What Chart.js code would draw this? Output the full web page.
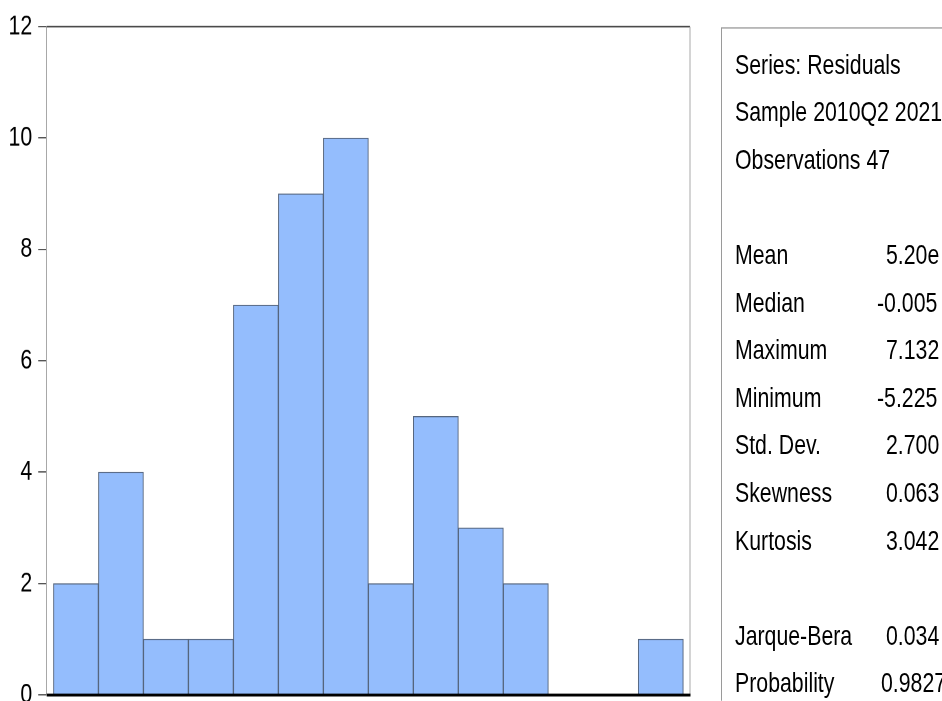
<!DOCTYPE html>
<html>
<head>
<meta charset="utf-8">
<script src="https://cdn.jsdelivr.net/npm/chart.js@4"></script>
<style>
  html, body { margin: 0; padding: 0; background: #fff; overflow: hidden; }
  /* the whole picture is stretched vertically, like the reference */
  #page { position: absolute; left: 0; top: 0; width: 942px; height: 539.23px; overflow: hidden;
          transform: scaleY(1.3); transform-origin: 0 0;
          font-family: "Liberation Sans", Arial, sans-serif; }
  #plot { position: absolute; left: 0; top: 0; width: 700px; height: 560px; }
  #stats { position: absolute; left: 721px; top: 20.5px; width: 400px; height: 700px;
           border: 1px solid #9a9a9a; box-sizing: border-box; }
  .row { position: absolute; height: 36.58px; line-height: 36.58px; font-size: 21.3px;
         color: #000; white-space: nowrap; }
</style>
</head>
<body>
<div id="page">
  <div id="plot"><canvas id="hist"></canvas></div>
  <div id="stats"></div>
</div>
<script>
// histogram of residuals, bins of width 1
const binCenters = [-5.5, -4.5, -3.5, -2.5, -1.5, -0.5, 0.5, 1.5, 2.5, 3.5, 4.5, 5.5, 6.5, 7.5];
const counts = [2, 4, 1, 1, 7, 9, 10, 2, 5, 3, 2, 0, 0, 1];
const xMin = -6.15, xMax = 8.15;
const yTicks = [0, 2, 4, 6, 8, 10, 12];

// stats box (text is cut by the right edge in the reference)
const headerLines = ["Series: Residuals", "Sample 2010Q2 2021Q4", "Observations 47"];
const statNames = ["Mean", "Median", "Maximum", "Minimum", "Std. Dev.", "Skewness", "Kurtosis"];
const statValues = ["5.20e", "-0.005", "7.132", "-5.225", "2.700", "0.063", "3.042"];
const testNames = ["Jarque-Bera", "Probability"];
const testValues = ["0.034", "0.9827"];

// where each value starts, left edge inside the box
const statValueX = [164, 155, 164, 155, 164, 164, 164];
const testValueX = [164, 159];

const box = document.getElementById('stats');
const lineH = 36.58, firstTop = 10.3, textLeft = 13;
function addText(txt, row, left) {
  const d = document.createElement('div');
  d.className = 'row';
  d.style.top = (firstTop + row * lineH) + 'px';
  d.style.left = left + 'px';
  d.textContent = txt;
  box.appendChild(d);
}
headerLines.forEach((t, i) => addText(t, i, textLeft));
statNames.forEach((t, i) => {
  addText(t, 4 + i, textLeft);
  addText(statValues[i], 4 + i, statValueX[i]);
});
testNames.forEach((t, i) => {
  addText(t, 12 + i, textLeft);
  addText(testValues[i], 12 + i, testValueX[i]);
});

// plot frame: top, right and the thick bottom line
const framePlugin = {
  id: 'frame',
  afterDatasetsDraw(chart) {
    const c = chart.ctx, a = chart.chartArea;
    c.save();
    c.strokeStyle = '#4a4a4a'; c.lineWidth = 1.2;
    c.beginPath(); c.moveTo(a.left, a.top); c.lineTo(a.right, a.top); c.stroke();
    c.strokeStyle = '#a8a8a8'; c.lineWidth = 1;
    c.beginPath(); c.moveTo(a.right, a.top); c.lineTo(a.right, a.bottom); c.stroke();
    c.strokeStyle = '#000'; c.lineWidth = 2.2;
    c.beginPath(); c.moveTo(a.left, a.bottom); c.lineTo(a.right + 0.5, a.bottom); c.stroke();
    c.restore();
  }
};

new Chart(document.getElementById('hist'), {
  type: 'bar',
  data: {
    datasets: [{
      data: binCenters.map((x, i) => ({ x: x, y: counts[i] })),
      backgroundColor: '#94bdfd',
      borderColor: '#56667e',
      borderWidth: 1,
      barPercentage: 1,
      categoryPercentage: 1
    }]
  },
  options: {
    responsive: true,
    maintainAspectRatio: false,
    animation: false,
    devicePixelRatio: 2,
    layout: { padding: { top: 20.5, right: 10, bottom: 25.4, left: 0 } },
    plugins: { legend: { display: false }, tooltip: { enabled: false } },
    scales: {
      x: {
        type: 'linear',
        display: false,
        min: xMin,
        max: xMax,
        offset: false,
        grid: { offset: false },
        ticks: { stepSize: 1, includeBounds: false }
      },
      y: {
        min: 0,
        max: 12,
        afterBuildTicks: s => { s.ticks = yTicks.map(v => ({ value: v })); },
        afterFit: s => { s.width = 46.7; },
        ticks: {
          color: '#000',
          padding: 6,
          font: { family: '"Liberation Sans", Arial, sans-serif', size: 21.3 }
        },
        grid: { drawOnChartArea: false, tickLength: 8.5, color: '#555' },
        border: { color: '#a8a8a8', width: 1 }
      }
    }
  },
  plugins: [framePlugin]
});
</script>
</body>
</html>
